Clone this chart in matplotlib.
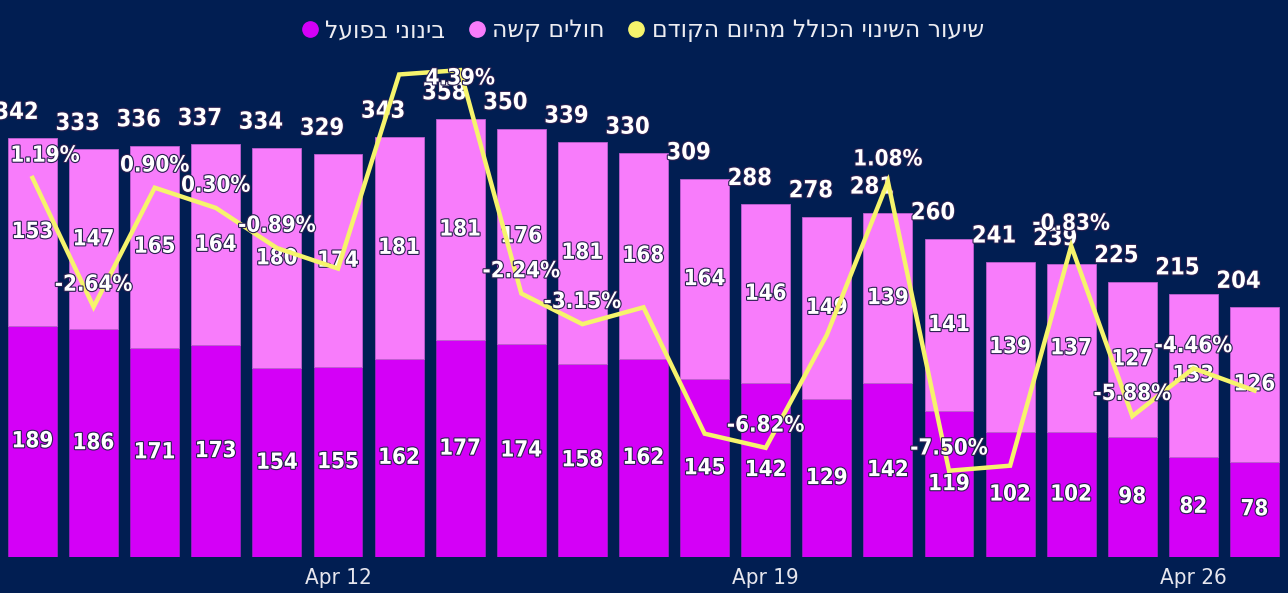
import numpy as np
import matplotlib.pyplot as plt
from matplotlib.lines import Line2D
import matplotlib.patheffects as pe
from matplotlib import font_manager

dates = ["Apr %d" % d for d in range(7, 28)]
moderate = [189, 186, 171, 173, 154, 155, 162, 177, 174, 158, 162,
            145, 142, 129, 142, 119, 102, 102, 98, 82, 78]
severe = [153, 147, 165, 164, 180, 174, 181, 181, 176, 181, 168,
          164, 146, 149, 139, 141, 139, 137, 127, 133, 126]
pct_change = [1.19, -2.64, 0.90, 0.30, -0.89, -1.50, 4.26, 4.39, -2.24, -3.15, -2.65,
              -6.40, -6.82, -3.47, 1.08, -7.50, -7.35, -0.83, -5.88, -4.46, -5.12]
pct_shown = [1, 1, 1, 1, 1, 0, 0, 1, 1, 1, 0,
             0, 1, 0, 1, 1, 0, 1, 1, 1, 0]
tick_idx = [5, 12, 19]

leg_moderate = "בינוני בפועל"
leg_severe = "חולים קשה"
leg_change = "שיעור השינוי הכולל מהיום הקודם"

bg = "#011E52"
c_mod = "#D400F7"
c_sev = "#F87CFB"
c_line = "#F6F46C"

# narrow font if the system has one
names = {f.name for f in font_manager.fontManager.ttflist}
cond = [f for f in font_manager.fontManager.ttflist
        if f.name == "DejaVu Sans" and f.stretch == "condensed"]
if "Liberation Sans Narrow" in names:
    font, stretch = ["Liberation Sans Narrow", "DejaVu Sans"], "normal"
elif cond:
    font, stretch = ["DejaVu Sans"], "condensed"
else:
    font, stretch = ["Roboto", "DejaVu Sans"], "normal"


def rtl(s):
    return s[::-1]


x = np.arange(len(dates))
moderate = np.array(moderate)
severe = np.array(severe)
total = moderate + severe

fig = plt.figure(figsize=(12.88, 5.93), dpi=100, facecolor=bg)
ax = fig.add_axes([0, 36 / 593, 1, 557 / 593])
ax.set_facecolor(bg)
ax.bar(x, moderate, width=0.8, color=c_mod, edgecolor="#9a20c0", linewidth=0.6)
ax.bar(x, severe, width=0.8, bottom=moderate, color=c_sev, edgecolor="#c060d0", linewidth=0.6)
ax.set_xlim(-0.532, 20.548)
ax.set_ylim(0, 455)
for s in ax.spines.values():
    s.set_visible(False)
ax.set_yticks([])
ax.set_xticks(tick_idx)
ax.set_xticklabels([dates[i] for i in tick_idx], color="#E6E6EE", fontsize=16,
                   family=font, fontstretch=stretch)
ax.tick_params(axis="x", length=0, pad=8)

shadow = [pe.withStroke(linewidth=1.6, foreground="#2a2050")]
lab = dict(color="white", fontsize=16, fontweight="bold", family=font, fontstretch=stretch,
           ha="center", va="center", path_effects=shadow)

for i in x:
    ax.text(i, moderate[i] / 2, str(moderate[i]), zorder=5, **lab)
    ax.text(i, moderate[i] + severe[i] / 2, str(severe[i]), zorder=5, **lab)
    ax.annotate(str(total[i]), (i, total[i]), xytext=(-11.5, 19), textcoords="offset points",
                zorder=5, **dict(lab, fontsize=17))

ax2 = ax.twinx()
ax2.set_ylim(-10.06, 6.47)
ax2.axis("off")
ax2.plot(x, pct_change, color=c_line, lw=3.2, solid_joinstyle="miter", zorder=3)
for i in x:
    if not pct_shown[i]:
        continue
    dy = -6 if pct_change[i] == max(pct_change) else 16
    dx = 9 if i == 0 else 0
    ax2.annotate("%.2f%%" % pct_change[i], (i, pct_change[i]), xytext=(dx, dy),
                 textcoords="offset points", zorder=6, **lab)

handles = [Line2D([], [], marker="o", ls="", color=c, markersize=11) for c in (c_mod, c_sev, c_line)]
leg = fig.legend(handles, [rtl(leg_moderate), rtl(leg_severe), rtl(leg_change)],
                 loc="upper center", bbox_to_anchor=(0.498, 1.005), ncol=3, frameon=False,
                 handletextpad=0.2, columnspacing=0.9, handlelength=0.9,
                 prop={"family": ["DejaVu Sans"], "size": 17})
for t in leg.get_texts():
    t.set_color("#EDEDF2")

fig.savefig("out.png", facecolor=bg)
